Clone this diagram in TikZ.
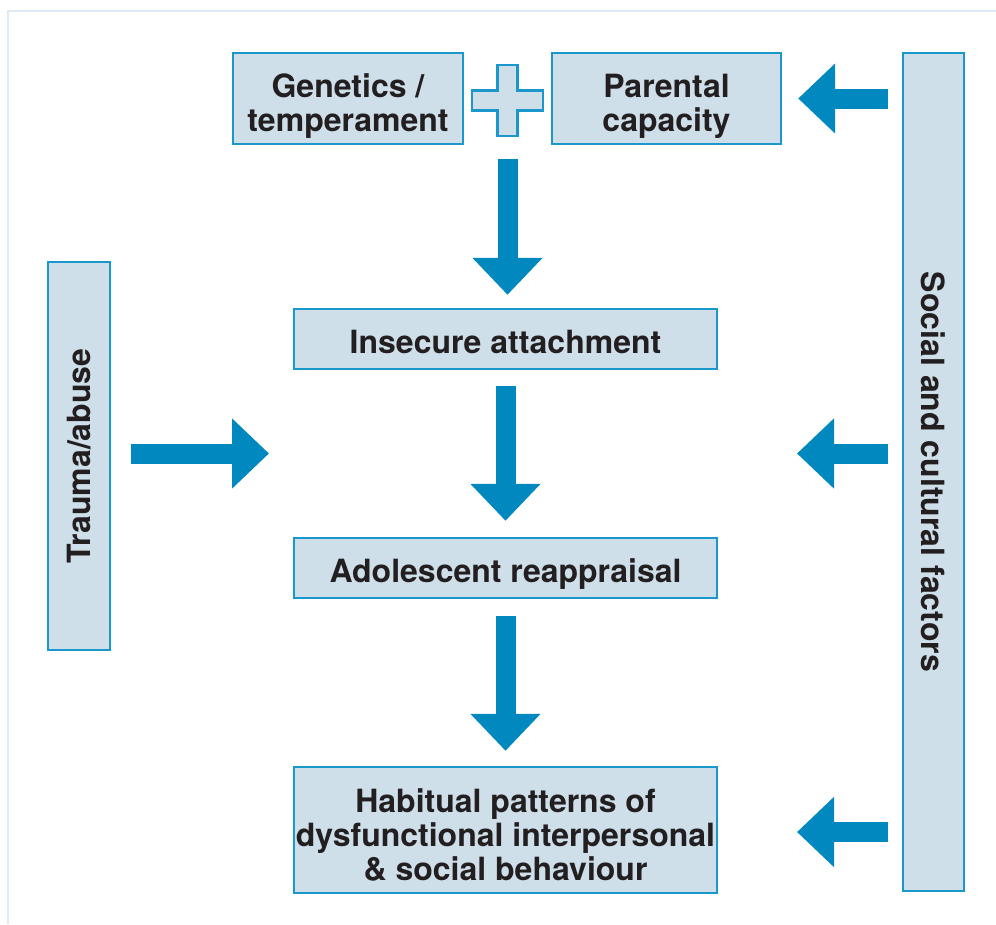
\documentclass[tikz,border=0pt]{standalone}
\usepackage{fontspec}
\setmainfont{TeX Gyre Heros}
\usetikzlibrary{arrows.meta,calc}
\definecolor{boxfill}{HTML}{CEDFEA}
\definecolor{boxline}{HTML}{1A98CC}
\definecolor{arrowblue}{HTML}{0088BF}
\definecolor{inktext}{HTML}{231F20}
\definecolor{framebg}{HTML}{E0EAF4}
% lower a (possibly multi-line) label inside its box without changing the box
\newcommand\droptext[2]{\raisebox{-#1}[\height][\depth]{%
  \begin{tabular}{@{}c@{}}#2\end{tabular}}}
\tikzset{
  box/.style={draw=boxline, fill=boxfill, line width=2.4pt, inner sep=0pt,
    text=inktext, font=\fontsize{32}{34}\selectfont\bfseries},
  blockarrow/.style={draw=arrowblue, line width=20pt, line cap=butt,
    -{Triangle[width=68pt,length=37pt,fill=arrowblue]}},
}
\begin{document}
\begin{tikzpicture}[x=1pt,y=-1pt]
\useasboundingbox (0,0) rectangle (996,924);
% outer frame
\draw[framebg, line width=2pt] (8,924) -- (8,11) -- (996,11);

% boxes
\node[box, minimum width=230pt, minimum height=91pt] (gen) at (348,98.5)
  {\droptext{9pt}{Genetics /\\temperament}};
\node[box, minimum width=229pt, minimum height=91pt] (par) at (666.5,98.5)
  {\droptext{9pt}{Parental\\capacity}};
\node[box, minimum width=61pt, minimum height=838pt] (social) at (933.5,472)
  {\rotatebox{-90}{Social and cultural factors}};
\node[box, minimum width=62pt, minimum height=388pt] (trauma) at (79,456)
  {\rotatebox{90}{Trauma/abuse}};
\node[box, minimum width=423pt, minimum height=60pt] (ins) at (505.5,339)
  {\droptext{8pt}{Insecure attachment}};
\node[box, minimum width=423pt, minimum height=60pt] (ado) at (505.5,568)
  {\droptext{8pt}{Adolescent reappraisal}};
\node[box, minimum width=423pt, minimum height=126pt] (hab) at (505.5,830)
  {\droptext{10pt}{Habitual patterns of\\dysfunctional interpersonal\\\& social behaviour}};

% plus sign between the two top boxes
\coordinate (plus) at (507.5,100.5);
\draw[draw=boxline, fill=boxfill, line width=2.4pt]
  ($(plus)+(-10,-35.5)$) -- ($(plus)+(10,-35.5)$) -- ($(plus)+(10,-10)$)
  -- ($(plus)+(35.5,-10)$) -- ($(plus)+(35.5,10)$) -- ($(plus)+(10,10)$)
  -- ($(plus)+(10,35.5)$) -- ($(plus)+(-10,35.5)$) -- ($(plus)+(-10,10)$)
  -- ($(plus)+(-35.5,10)$) -- ($(plus)+(-35.5,-10)$) -- ($(plus)+(-10,-10)$) -- cycle;

% free ends of the side arrows
\coordinate (tin) at (269,453.5);
\coordinate (smid) at (797,453.5);
\coordinate (sbot) at (797,832);

% main chain
\draw[blockarrow, shorten <=58.5pt, shorten >=13pt] (plus) -- (plus |- ins.north);
\draw[blockarrow, shorten <=16pt, shorten >=16pt] (ins.south) -- (ado.north);
\draw[blockarrow, shorten <=17pt, shorten >=15pt] (ado.south) -- (hab.north);

% side influences
\draw[blockarrow, shorten <=20pt] (trauma.east |- tin) -- (tin);
\draw[blockarrow, shorten <=14pt, shorten >=16pt] (social.west |- par.east) -- (par.east);
\draw[blockarrow, shorten <=14pt] (social.west |- smid) -- (smid);
\draw[blockarrow, shorten <=14pt] (social.west |- sbot) -- (sbot);
\end{tikzpicture}
\end{document}
